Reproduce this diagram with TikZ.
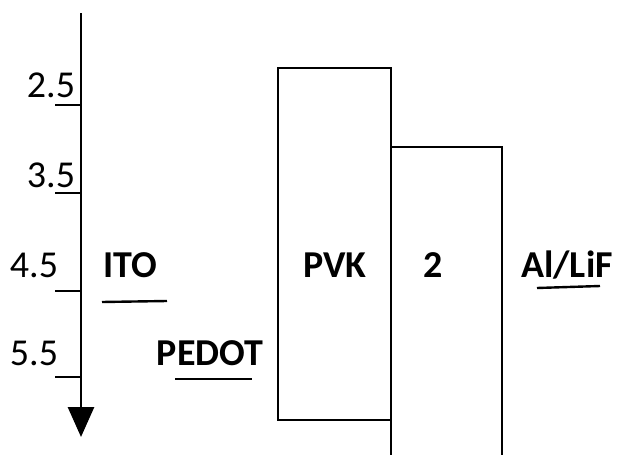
\documentclass[tikz,border=0pt]{standalone}
\usepackage{fontspec}
\setmainfont{Carlito}
\usetikzlibrary{arrows.meta}
\begin{document}
\begin{tikzpicture}[x=1pt,y=-1pt,
  lbl/.style={inner sep=0pt,font=\fontsize{38}{42}\selectfont},
  blbl/.style={inner sep=0pt,font=\fontsize{38}{42}\selectfont\bfseries},
  ln/.style={line width=2.4pt},
  bx/.style={line width=2.8pt}]
\useasboundingbox (0,0) rectangle (619,455);
% axis
\coordinate (atop) at (81,13);
\coordinate (abot) at (81,437);
\draw[line width=2.8pt,-{Triangle[width=26pt,length=30pt]}] (atop) -- (abot);
% ticks
\foreach \y/\n in {105/t1,193/t2,291/t3,377/t4}{
  \coordinate (\n a) at (55,\y);
  \coordinate (\n b) at (81,\y);
  \draw[ln] (\n a) -- (\n b);
}
\node[lbl] (v1) at (51,85) {2.5};
\node[lbl] (v2) at (51,175) {3.5};
\node[lbl] (v3) at (34,265) {4.5};
\node[lbl] (v4) at (34,353) {5.5};
% ITO
\node[blbl] (ito) at (130,265) {ITO};
\coordinate (itoa) at (102,302);
\coordinate (itob) at (167,301);
\draw[ln] (itoa) -- (itob);
% PEDOT
\node[blbl] (pedot) at (210,353) {PEDOT};
\coordinate (pedota) at (175,379);
\coordinate (pedotb) at (252,379);
\draw[ln] (pedota) -- (pedotb);
% PVK box
\node[bx,draw,minimum width=113pt,minimum height=352pt,inner sep=0pt] (pvk) at (334.5,244) {};
\node[blbl] (pvkt) at (335,265) {PVK};
% box 2
\coordinate (b2a) at (391,455);
\coordinate (b2b) at (391,147);
\coordinate (b2c) at (502,147);
\coordinate (b2d) at (502,455);
\draw[bx] (b2a) -- (b2b) -- (b2c) -- (b2d);
\node[blbl] (two) at (433,265) {2};
% Al/LiF
\node[blbl] (al) at (567,265) {Al/LiF};
\coordinate (ala) at (537,288);
\coordinate (alb) at (600,286);
\draw[ln] (ala) -- (alb);
\end{tikzpicture}
\end{document}
